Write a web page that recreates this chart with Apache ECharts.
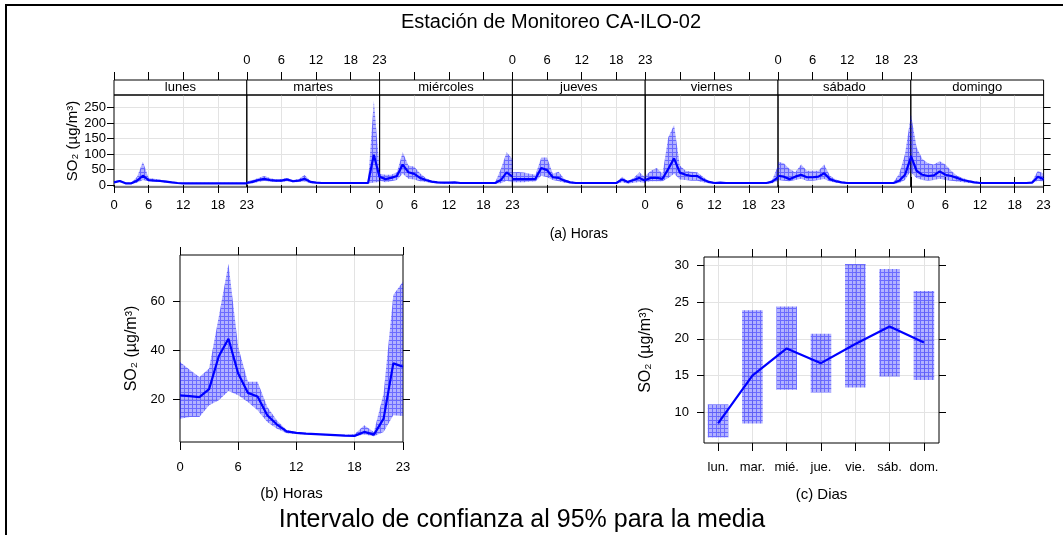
<!DOCTYPE html>
<html>
<head>
<meta charset="utf-8">
<script src="https://cdn.jsdelivr.net/npm/echarts@6/dist/echarts.min.js"></script>
<style>
  html, body { margin: 0; padding: 0; background: #fff; }
  #chart { width: 1063px; height: 535px; }
</style>
</head>
<body>
<div id="chart"></div>
<script>
  // horas del día (eje x de los paneles a y b)
  const hours = ['0', '1', '2', '3', '4', '5', '6', '7', '8', '9', '10', '11',
    '12', '13', '14', '15', '16', '17', '18', '19', '20', '21', '22', '23'];
  const hourTicks = [0, 6, 12, 18, 23];
  const dayNames = ['lunes', 'martes', 'miércoles', 'jueves', 'viernes', 'sábado', 'domingo'];
  const dayShort = ['lun.', 'mar.', 'mié.', 'jue.', 'vie.', 'sáb.', 'dom.'];
  const dayIdx = [1, 2, 3, 4, 5, 6, 7];

  // (a) media horaria por día de la semana + IC 95%
  const lunesMean = [8.6, 13, 5.4, 5.4, 14, 30, 16, 14, 13, 11, 8.6, 6.5, 5.4, 5.4, 5.4, 5.4, 5.4, 5.4, 5.4, 5.4, 5.4, 5.4, 5.4, 5.4];
  const lunesUpper = [12, 16, 7.5, 7.5, 27, 75, 23, 20, 17, 14, 11, 8.6, 7.5, 7.5, 7.5, 7.5, 7.5, 7.5, 7.5, 7.5, 7.5, 7.5, 7.5, 7.5];
  const lunesLower = [5.4, 10, 3.2, 3.2, 7.5, 16, 12, 11, 10, 7.5, 6.5, 4.3, 4.3, 4.3, 4.3, 4.3, 4.3, 4.3, 4.3, 4.3, 4.3, 4.3, 4.3, 4.3];

  const martesMean = [6.5, 10, 16, 20, 16, 14, 14, 18, 12, 14, 20, 10, 7.5, 6.5, 6.5, 6.5, 6.5, 6.5, 6.5, 6.5, 6.5, 6.5, 98, 25];
  const martesUpper = [11, 16, 23, 29, 23, 18, 19, 23, 16, 19, 32, 14, 10, 7.5, 7.5, 7.5, 7.5, 7.5, 7.5, 7.5, 7.5, 8, 273, 50];
  const martesLower = [4.5, 6, 10, 13, 11, 10, 10, 12, 9, 10, 11, 6, 5, 4.5, 4.5, 4.5, 4.5, 4.5, 4.5, 4.5, 4.5, 5, 8, 10];

  const miercolesMean = [27, 19, 23, 29, 66, 41, 36, 23, 16, 11, 8.6, 7.5, 7.5, 8.6, 6.5, 6.5, 6.5, 6.5, 6.5, 6.5, 6.5, 16, 41, 27];
  const miercolesUpper = [36, 33, 33, 41, 106, 63, 59, 38, 23, 14, 11, 8.6, 8.6, 10, 7.5, 7.5, 7.5, 7.5, 7.5, 7.5, 7.5, 52, 106, 84];
  const miercolesLower = [14, 8.6, 12, 16, 36, 20, 18, 12, 10, 6.5, 5.4, 4.3, 4.3, 4.3, 4.3, 4.3, 4.3, 4.3, 4.3, 4.3, 4.3, 5.4, 14, 8.6];

  const juevesMean = [19, 19, 19, 19, 20, 55, 48, 25, 23, 14, 8.6, 6.5, 6.5, 6.5, 6.5, 6.5, 6.5, 6.5, 6.5, 18, 10, 16, 23, 14];
  const juevesUpper = [41, 42, 40, 36, 33, 89, 89, 36, 43, 19, 12, 8.6, 7.5, 7.5, 7.5, 7.5, 7.5, 7.5, 7.5, 27, 12, 23, 41, 25];
  const juevesLower = [8.6, 8.6, 8.6, 11, 11, 30, 25, 16, 12, 7.5, 5.4, 4.3, 4.3, 4.3, 4.3, 4.3, 4.3, 4.3, 4.3, 8.6, 4.3, 7.5, 10, 6.5];

  const viernesMean = [16, 23, 23, 20, 52, 86, 40, 33, 29, 29, 18, 10, 6.5, 7.5, 6.5, 6.5, 6.5, 6.5, 6.5, 6.5, 6.5, 6.5, 11, 25];
  const viernesUpper = [30, 46, 55, 36, 154, 194, 63, 46, 43, 41, 27, 14, 8.6, 9, 7.5, 7.5, 7.5, 7.5, 7.5, 7.5, 7.5, 7.5, 16, 63];
  const viernesLower = [10, 12, 12, 12, 23, 36, 18, 16, 14, 14, 8.6, 5.4, 4.3, 4.3, 4.3, 4.3, 4.3, 4.3, 4.3, 4.3, 4.3, 4.3, 5.4, 14];

  const sabadoMean = [30, 27, 19, 27, 33, 25, 25, 27, 38, 19, 12, 8.6, 6.5, 6.5, 6.5, 6.5, 6.5, 6.5, 6.5, 6.5, 6.5, 14, 33, 89];
  const sabadoUpper = [75, 70, 52, 41, 66, 46, 46, 46, 66, 30, 18, 12, 8.6, 7.5, 7.5, 7.5, 7.5, 7.5, 7.5, 7.5, 8.6, 36, 100, 224];
  const sabadoLower = [16, 14, 12, 16, 20, 14, 14, 16, 19, 11, 7.5, 5.4, 4.3, 4.3, 4.3, 4.3, 4.3, 4.3, 4.3, 4.3, 4.3, 6.5, 16, 46];

  const domingoMean = [95, 46, 33, 29, 31, 44, 33, 29, 23, 16, 12, 8.6, 6.5, 6.5, 6.5, 6.5, 6.5, 6.5, 6.5, 6.5, 6.5, 7.5, 27, 19];
  const domingoUpper = [230, 122, 84, 70, 66, 77, 66, 46, 30, 23, 16, 12, 10, 7.5, 7.5, 7.5, 7.5, 7.5, 7.5, 7.5, 7.5, 12, 46, 36];
  const domingoLower = [41, 23, 16, 14, 16, 20, 16, 14, 11, 8.6, 6.5, 5.4, 5.4, 5.4, 5.4, 5.4, 5.4, 5.4, 5.4, 5.4, 5.4, 6.5, 14, 11];

  // (b) media por hora (todos los días)
  const hourMean = [21.6, 21.3, 20.9, 24.1, 37.5, 44.6, 30.5, 22.6, 21.1, 13.5, 9.7, 6.9, 6.3, 6.0, 5.8, 5.6, 5.4, 5.2, 5.1, 6.7, 5.6, 12.1, 34.6, 33.2];
  const hourUpper = [35.2, 32.0, 29.1, 32.5, 53.6, 75.1, 41.3, 27.1, 27.1, 16.9, 11.4, 7.5, 6.7, 6.2, 6.0, 5.8, 5.6, 5.5, 5.8, 9.4, 6.7, 22.3, 62.4, 67.9];
  const hourLower = [12.1, 12.8, 12.8, 17.6, 19.6, 23.4, 21.6, 18.9, 15.5, 10.7, 8.0, 6.2, 5.9, 5.7, 5.5, 5.3, 5.1, 4.9, 4.9, 5.7, 4.9, 6.7, 13.5, 13.2];

  // (c) media por día
  const dayMean = [8.5, 15.0, 18.7, 16.7, 19.3, 21.7, 19.5];
  const dayLower = [6.6, 8.5, 13.1, 12.7, 13.4, 14.9, 14.4];
  const dayUpper = [11.1, 23.9, 24.4, 20.7, 30.2, 29.5, 26.5];

  // ticks de los ejes y
  const yTicksA = [0, 50, 100, 150, 200, 250];
  const yTicksB = [20, 40, 60];
  const yTicksC = [10, 15, 20, 25, 30];

  const weekMean = [lunesMean, martesMean, miercolesMean, juevesMean, viernesMean, sabadoMean, domingoMean];
  const weekUpper = [lunesUpper, martesUpper, miercolesUpper, juevesUpper, viernesUpper, sabadoUpper, domingoUpper];
  const weekLower = [lunesLower, martesLower, miercolesLower, juevesLower, viernesLower, sabadoLower, domingoLower];

  const FONT = "'Liberation Sans', Arial, sans-serif";
  const BLUE = '#0000ff';
  const GRID_COLOR = '#e3e3e3';
  const yName = 'SO₂ (µg/m³)';

  // relleno cuadriculado para los intervalos
  function hatch() {
    const c = document.createElement('canvas');
    c.width = 4;
    c.height = 4;
    const g = c.getContext('2d');
    g.fillStyle = 'rgba(0,0,255,0.3)';
    g.fillRect(0, 0, 4, 4);
    g.fillStyle = 'rgba(0,0,255,0.4)';
    g.fillRect(0, 0, 4, 1);
    g.fillRect(0, 1, 1, 3);
    return c;
  }
  const pattern = { image: hatch(), repeat: 'repeat' };

  const tickAt = (idx) => hourTicks.includes(idx);
  const innerAt = (idx) => idx === 6 || idx === 12 || idx === 18;
  const lbl = (extra) => Object.assign({ color: '#000', fontFamily: FONT, fontSize: 13 }, extra);

  const grids = [];
  const xAxes = [];
  const yAxes = [];
  const series = [];
  const graphics = [];

  // panel (a): un grid por día
  const aLeft = 114, aW = 132.8, aTop = 95, aH = 92, stripH = 15;
  for (let i = 0; i < 7; i++) {
    const left = aLeft + i * aW;
    grids.push({ left: left, top: aTop, width: aW, height: aH, show: true, borderColor: '#000', borderWidth: 1, z: 3 });
    const xb = xAxes.length;
    xAxes.push({
      type: 'category', gridIndex: i, data: hours, boundaryGap: false, position: 'bottom',
      name: i === 3 ? '(a) Horas' : '', nameLocation: 'middle', nameGap: 40,
      nameTextStyle: { color: '#000', fontFamily: FONT, fontSize: 14 },
      axisLine: { show: false },
      axisTick: { show: true, length: 8, interval: tickAt, lineStyle: { color: '#000' } },
      axisLabel: lbl({ show: i % 2 === 0, interval: tickAt, margin: 12 }),
      splitLine: { show: true, interval: innerAt, lineStyle: { color: GRID_COLOR } }
    });
    xAxes.push({
      type: 'category', gridIndex: i, data: hours, boundaryGap: false, position: 'top', offset: stripH,
      axisLine: { show: false },
      axisTick: { show: true, length: 8, interval: tickAt, lineStyle: { color: '#000' } },
      axisLabel: lbl({ show: i % 2 === 1, interval: tickAt, margin: 13 }),
      splitLine: { show: false }
    });
    const yl = yAxes.length;
    yAxes.push({
      type: 'value', gridIndex: i, min: -6.5, max: 291, position: 'left',
      name: i === 0 ? yName : '', nameLocation: 'middle', nameRotate: 90, nameGap: 30,
      nameTextStyle: { color: '#000', fontFamily: FONT, fontSize: 15 },
      axisLine: { show: false },
      axisTick: { show: i === 0, length: 7, customValues: yTicksA, lineStyle: { color: '#000' } },
      axisLabel: lbl({ show: i === 0, customValues: yTicksA, margin: 8 }),
      splitLine: { show: true, lineStyle: { color: GRID_COLOR } }
    });
    if (i === 6) {
      yAxes.push({
        type: 'value', gridIndex: i, min: -6.5, max: 291, position: 'right',
        axisLine: { show: false },
        axisTick: { show: true, length: 7, customValues: yTicksA, lineStyle: { color: '#000' } },
        axisLabel: { show: false }, splitLine: { show: false }
      });
    }
    series.push({
      type: 'line', xAxisIndex: xb, yAxisIndex: yl, stack: 'ci' + i, data: weekLower[i],
      symbol: 'none', lineStyle: { width: 0, opacity: 0 }, silent: true
    });
    series.push({
      type: 'line', xAxisIndex: xb, yAxisIndex: yl, stack: 'ci' + i,
      data: weekUpper[i].map((u, k) => u - weekLower[i][k]),
      symbol: 'none', lineStyle: { width: 0, opacity: 0 }, areaStyle: { color: pattern, opacity: 1 }, silent: true
    });
    series.push({
      type: 'line', xAxisIndex: xb, yAxisIndex: yl, data: weekMean[i],
      symbol: 'none', lineStyle: { color: BLUE, width: 2.2 }, z: 5
    });
    // tira con el nombre del día
    graphics.push({
      type: 'rect', shape: { x: left, y: aTop - stripH, width: aW, height: stripH },
      style: { fill: '#fff', stroke: '#000', lineWidth: 1 }
    });
    graphics.push({
      type: 'text', x: left + aW / 2, y: aTop - stripH / 2,
      style: { text: dayNames[i], fill: '#000', font: '13px ' + FONT, textAlign: 'center', textVerticalAlign: 'middle' }
    });
  }

  // panel (b): horas
  const gB = grids.length;
  grids.push({ left: 180, top: 255, width: 223, height: 187, show: true, borderColor: '#000', borderWidth: 1, z: 3 });
  const xB = xAxes.length;
  xAxes.push({
    type: 'category', gridIndex: gB, data: hours, boundaryGap: false, position: 'bottom',
    name: '(b) Horas', nameLocation: 'middle', nameGap: 44,
    nameTextStyle: { color: '#000', fontFamily: FONT, fontSize: 15 },
    axisLine: { show: false },
    axisTick: { show: true, length: 8, interval: tickAt, lineStyle: { color: '#000' } },
    axisLabel: lbl({ interval: tickAt, margin: 19 }),
    splitLine: { show: true, interval: innerAt, lineStyle: { color: GRID_COLOR } }
  });
  xAxes.push({
    type: 'category', gridIndex: gB, data: hours, boundaryGap: false, position: 'top',
    axisLine: { show: false },
    axisTick: { show: true, length: 8, interval: tickAt, lineStyle: { color: '#000' } },
    axisLabel: { show: false }, splitLine: { show: false }
  });
  const yB = yAxes.length;
  yAxes.push({
    type: 'value', gridIndex: gB, min: 2.6, max: 78.7, position: 'left',
    name: yName, nameLocation: 'middle', nameRotate: 90, nameGap: 40,
    nameTextStyle: { color: '#000', fontFamily: FONT, fontSize: 16 },
    axisLine: { show: false },
    axisTick: { show: true, length: 7, customValues: yTicksB, lineStyle: { color: '#000' } },
    axisLabel: lbl({ customValues: yTicksB, margin: 15 }),
    splitLine: { show: true, lineStyle: { color: GRID_COLOR } }
  });
  yAxes.push({
    type: 'value', gridIndex: gB, min: 2.6, max: 78.7, position: 'right',
    axisLine: { show: false },
    axisTick: { show: true, length: 7, customValues: yTicksB, lineStyle: { color: '#000' } },
    axisLabel: { show: false }, splitLine: { show: false }
  });
  series.push({
    type: 'line', xAxisIndex: xB, yAxisIndex: yB, stack: 'ciB', data: hourLower,
    symbol: 'none', lineStyle: { width: 0, opacity: 0 }, silent: true
  });
  series.push({
    type: 'line', xAxisIndex: xB, yAxisIndex: yB, stack: 'ciB',
    data: hourUpper.map((u, k) => u - hourLower[k]),
    symbol: 'none', lineStyle: { width: 0, opacity: 0 }, areaStyle: { color: pattern, opacity: 1 }, silent: true
  });
  series.push({
    type: 'line', xAxisIndex: xB, yAxisIndex: yB, data: hourMean,
    symbol: 'none', lineStyle: { color: BLUE, width: 2.2 }, z: 5
  });

  // panel (c): días
  const gC = grids.length;
  grids.push({ left: 704, top: 257, width: 235, height: 186, show: true, borderColor: '#000', borderWidth: 1, z: 3 });
  const xC = xAxes.length;
  xAxes.push({
    type: 'value', gridIndex: gC, min: 0.59, max: 7.44, position: 'bottom',
    name: '(c) Dias', nameLocation: 'middle', nameGap: 44,
    nameTextStyle: { color: '#000', fontFamily: FONT, fontSize: 15 },
    axisLine: { show: false },
    axisTick: { show: true, length: 8, customValues: dayIdx, lineStyle: { color: '#000' } },
    axisLabel: lbl({ customValues: dayIdx, margin: 18, formatter: (v) => dayShort[Math.round(v) - 1] }),
    splitLine: { show: true, lineStyle: { color: GRID_COLOR } }
  });
  xAxes.push({
    type: 'value', gridIndex: gC, min: 0.59, max: 7.44, position: 'top',
    axisLine: { show: false },
    axisTick: { show: true, length: 8, customValues: dayIdx, lineStyle: { color: '#000' } },
    axisLabel: { show: false }, splitLine: { show: false }
  });
  const yC = yAxes.length;
  yAxes.push({
    type: 'value', gridIndex: gC, min: 5.84, max: 31.14, position: 'left',
    name: yName, nameLocation: 'middle', nameRotate: 90, nameGap: 50,
    nameTextStyle: { color: '#000', fontFamily: FONT, fontSize: 16 },
    axisLine: { show: false },
    axisTick: { show: true, length: 7, customValues: yTicksC, lineStyle: { color: '#000' } },
    axisLabel: lbl({ customValues: yTicksC, margin: 15 }),
    splitLine: { show: true, lineStyle: { color: GRID_COLOR } }
  });
  yAxes.push({
    type: 'value', gridIndex: gC, min: 5.84, max: 31.14, position: 'right',
    axisLine: { show: false },
    axisTick: { show: true, length: 7, customValues: yTicksC, lineStyle: { color: '#000' } },
    axisLabel: { show: false }, splitLine: { show: false }
  });
  series.push({
    type: 'custom', xAxisIndex: xC, yAxisIndex: yC,
    data: dayIdx.map((d, k) => [d, dayLower[k], dayUpper[k]]),
    renderItem: function (params, api) {
      const x = api.value(0);
      const p1 = api.coord([x - 0.3, api.value(2)]);
      const p2 = api.coord([x + 0.3, api.value(1)]);
      return {
        type: 'rect',
        shape: { x: p1[0], y: p1[1], width: p2[0] - p1[0], height: p2[1] - p1[1] },
        style: { fill: pattern }
      };
    },
    silent: true
  });
  series.push({
    type: 'line', xAxisIndex: xC, yAxisIndex: yC,
    data: dayIdx.map((d, k) => [d, dayMean[k]]),
    symbol: 'none', lineStyle: { color: BLUE, width: 2.2 }, z: 5
  });

  // marco, título y leyenda inferior
  graphics.push({
    type: 'rect', z: -10, shape: { x: 6, y: 5, width: 1200, height: 700 },
    style: { fill: 'none', stroke: '#000', lineWidth: 2 }
  });
  graphics.push({
    type: 'text', x: 551, y: 22,
    style: { text: 'Estación de Monitoreo CA-ILO-02', fill: '#000', font: '20px ' + FONT, textAlign: 'center', textVerticalAlign: 'middle' }
  });
  graphics.push({
    type: 'text', x: 522, y: 520,
    style: { text: 'Intervalo de confianza al 95% para la media', fill: '#000', font: '25px ' + FONT, textAlign: 'center', textVerticalAlign: 'middle' }
  });

  const chart = echarts.init(document.getElementById('chart'), null, { renderer: 'canvas' });
  chart.setOption({
    animation: false,
    backgroundColor: '#fff',
    grid: grids,
    xAxis: xAxes,
    yAxis: yAxes,
    series: series,
    graphic: graphics
  });
</script>
</body>
</html>
